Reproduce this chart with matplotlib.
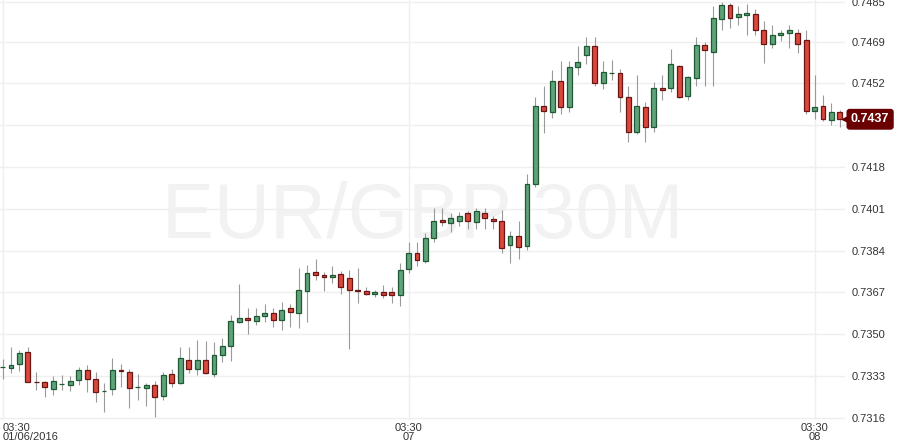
import numpy as np
import matplotlib
matplotlib.use("Agg")
from matplotlib import pyplot as plt

# EUR/GBP 30-Minuten-Kerzen, 06.01.2016 03:30 bis 08.01.2016
opens = [0.73365, 0.73363, 0.73380, 0.73427, 0.73307, 0.73304, 0.73276, 0.73296, 0.73294, 0.73312,
         0.73353, 0.73316, 0.73269, 0.73276, 0.73353, 0.73345, 0.73284, 0.73280, 0.73292, 0.73250,
         0.73337, 0.73302, 0.73393, 0.73359, 0.73393, 0.73339, 0.73414, 0.73450, 0.73548, 0.73564,
         0.73552, 0.73572, 0.73585, 0.73556, 0.73605, 0.73585, 0.73674, 0.73751, 0.73739, 0.73731,
         0.73743, 0.73727, 0.73678, 0.73674, 0.73662, 0.73670, 0.73670, 0.73658, 0.73764, 0.73829,
         0.73796, 0.73890, 0.73963, 0.73951, 0.73959, 0.73991, 0.73955, 0.73991, 0.73967, 0.73959,
         0.73861, 0.73898, 0.73857, 0.74109, 0.74427, 0.74402, 0.74528, 0.74422, 0.74585, 0.74634,
         0.74670, 0.74520, 0.74561, 0.74561, 0.74463, 0.74321, 0.74422, 0.74341, 0.74500, 0.74500,
         0.74589, 0.74467, 0.74540, 0.74675, 0.74646, 0.74780, 0.74837, 0.74788, 0.74797, 0.74801,
         0.74736, 0.74679, 0.74715, 0.74723, 0.74723, 0.74695, 0.74406, 0.74427, 0.74370, 0.74402]
closes = [0.73367, 0.73373, 0.73422, 0.73306, 0.73306, 0.73286, 0.73308, 0.73296, 0.73308, 0.73353,
          0.73316, 0.73266, 0.73269, 0.73353, 0.73350, 0.73280, 0.73284, 0.73292, 0.73245, 0.73332,
          0.73302, 0.73402, 0.73359, 0.73393, 0.73343, 0.73414, 0.73450, 0.73552, 0.73564, 0.73556,
          0.73572, 0.73585, 0.73556, 0.73597, 0.73589, 0.73678, 0.73747, 0.73739, 0.73731, 0.73739,
          0.73690, 0.73678, 0.73677, 0.73662, 0.73670, 0.73658, 0.73658, 0.73759, 0.73829, 0.73800,
          0.73890, 0.73959, 0.73955, 0.73971, 0.73979, 0.73959, 0.73999, 0.73971, 0.73959, 0.73849,
          0.73898, 0.73853, 0.74109, 0.74427, 0.74406, 0.74528, 0.74422, 0.74585, 0.74605, 0.74670,
          0.74520, 0.74565, 0.74561, 0.74463, 0.74321, 0.74427, 0.74341, 0.74500, 0.74492, 0.74597,
          0.74463, 0.74544, 0.74675, 0.74654, 0.74784, 0.74837, 0.74784, 0.74801, 0.74805, 0.74736,
          0.74679, 0.74715, 0.74723, 0.74736, 0.74679, 0.74406, 0.74422, 0.74374, 0.74402, 0.74374]
highs = [0.73399, 0.73448, 0.73435, 0.73448, 0.73346, 0.73309, 0.73330, 0.73332, 0.73330, 0.73366,
         0.73374, 0.73345, 0.73300, 0.73402, 0.73378, 0.73358, 0.73338, 0.73301, 0.73309, 0.73346,
         0.73358, 0.73448, 0.73448, 0.73476, 0.73472, 0.73468, 0.73484, 0.73578, 0.73704, 0.73606,
         0.73606, 0.73622, 0.73606, 0.73631, 0.73622, 0.73769, 0.73781, 0.73805, 0.73751, 0.73777,
         0.73757, 0.73761, 0.73768, 0.73693, 0.73678, 0.73698, 0.73690, 0.73788, 0.73875, 0.73875,
         0.73910, 0.74013, 0.74012, 0.73991, 0.73995, 0.73999, 0.74012, 0.74012, 0.73979, 0.74004,
         0.73918, 0.73959, 0.74151, 0.74464, 0.74509, 0.74574, 0.74611, 0.74611, 0.74672, 0.74708,
         0.74708, 0.74609, 0.74614, 0.74577, 0.74508, 0.74552, 0.74444, 0.74524, 0.74552, 0.74660,
         0.74593, 0.74548, 0.74707, 0.74687, 0.74834, 0.74851, 0.74845, 0.74834, 0.74843, 0.74822,
         0.74772, 0.74756, 0.74736, 0.74756, 0.74740, 0.74736, 0.74552, 0.74471, 0.74439, 0.74410]
lows = [0.73319, 0.73343, 0.73351, 0.73305, 0.73273, 0.73244, 0.73252, 0.73273, 0.73270, 0.73293,
        0.73265, 0.73224, 0.73184, 0.73252, 0.73285, 0.73201, 0.73232, 0.73208, 0.73164, 0.73232,
        0.73286, 0.73297, 0.73343, 0.73334, 0.73339, 0.73327, 0.73388, 0.73392, 0.73545, 0.73502,
        0.73538, 0.73548, 0.73528, 0.73515, 0.73528, 0.73526, 0.73548, 0.73719, 0.73677, 0.73707,
        0.73662, 0.73441, 0.73628, 0.73658, 0.73652, 0.73648, 0.73628, 0.73615, 0.73747, 0.73778,
        0.73788, 0.73873, 0.73938, 0.73917, 0.73938, 0.73929, 0.73929, 0.73929, 0.73926, 0.73829,
        0.73790, 0.73804, 0.73841, 0.74097, 0.74319, 0.74380, 0.74396, 0.74404, 0.74552, 0.74597,
        0.74508, 0.74498, 0.74532, 0.74404, 0.74280, 0.74313, 0.74280, 0.74321, 0.74451, 0.74483,
        0.74459, 0.74451, 0.74508, 0.74508, 0.74508, 0.74736, 0.74744, 0.74756, 0.74715, 0.74715,
        0.74601, 0.74662, 0.74691, 0.74662, 0.74642, 0.74394, 0.74374, 0.74365, 0.74349, 0.74341]

y_ticks = [0.7316, 0.7333, 0.7350, 0.7367, 0.7384, 0.7401, 0.7418, 0.7435, 0.7452, 0.7469, 0.7485]
x_tick_pos = [0, 48, 96]
x_tick_labels = ["03:30\n01/06/2016", "03:30\n07", "03:30\n08"]
titel = "EUR/GBP 30M"

GRUEN = "#5fa37a"
GRUEN_RAND = "#1f5a35"
ROT = "#d9483b"
ROT_RAND = "#6b1515"
DOCHT = "#9a9a9a"
GITTER = "#efefef"
SCHRIFT = "Liberation Sans"

o = np.array(opens)
c = np.array(closes)
h = np.array(highs)
l = np.array(lows)
x = np.arange(len(o))
steigend = c >= o

fig = plt.figure(figsize=(9, 4.48), dpi=100)
ax = fig.add_axes([0, 28 / 448, 845 / 900, 420 / 448])
ax.set_xlim(-0.3, 99.6)
ax.set_ylim(0.73151, 0.74859)

# Gitter
ax.set_yticks(y_ticks)
ax.set_xticks(x_tick_pos)
ax.grid(True, color=GITTER, lw=1.0, zorder=0)
ax.set_axisbelow(True)
for s in ax.spines.values():
    s.set_visible(False)

# Wasserzeichen
ax.text(0.5006, 0.4326, titel, transform=ax.transAxes, ha="center", va="baseline",
        fontsize=56, color="#f2f2f2", family=SCHRIFT, zorder=0.5)

# Dochte
ax.vlines(x, l, h, color=DOCHT, lw=0.8, zorder=1)

# Körper
unten = np.minimum(o, c)
hoehe = np.maximum(np.abs(c - o), 0.000008)
farben = np.where(steigend, GRUEN, ROT)
raender = np.where(steigend, GRUEN_RAND, ROT_RAND)
ax.bar(x, hoehe, bottom=unten, width=0.58, color=farben, edgecolor=raender,
       linewidth=0.9, zorder=2)

# Achsenbeschriftung
ax.yaxis.tick_right()
ylabels = ["" if abs(v - c[-1]) < 0.0005 else f"{v:.4f}" for v in y_ticks]
ax.set_yticklabels(ylabels)
ax.tick_params(axis="y", length=0, pad=4.5, labelsize=8, labelcolor="#333333")
ax.set_xticklabels(x_tick_labels)
ax.tick_params(axis="x", length=0, pad=2, labelsize=8, labelcolor="#333333")
for t in ax.get_xticklabels() + ax.get_yticklabels():
    t.set_family(SCHRIFT)
    t.set_linespacing(0.95)
ax.get_xticklabels()[0].set_horizontalalignment("left")

# aktueller Kurs
ax.plot([1.0], [c[-1]], marker="<", ms=5, color="#6b0000", transform=ax.get_yaxis_transform(),
        clip_on=False, zorder=5)
ax.text(1.007, c[-1], f"{c[-1]:.4f}", transform=ax.get_yaxis_transform(), ha="left",
        va="center", fontsize=9, fontweight="bold", color="white", family=SCHRIFT,
        bbox=dict(boxstyle="round,pad=0.3,rounding_size=0.2", fc="#6b0000", ec="#6b0000"),
        clip_on=False, zorder=6)

fig.savefig("out.png", dpi=100)
